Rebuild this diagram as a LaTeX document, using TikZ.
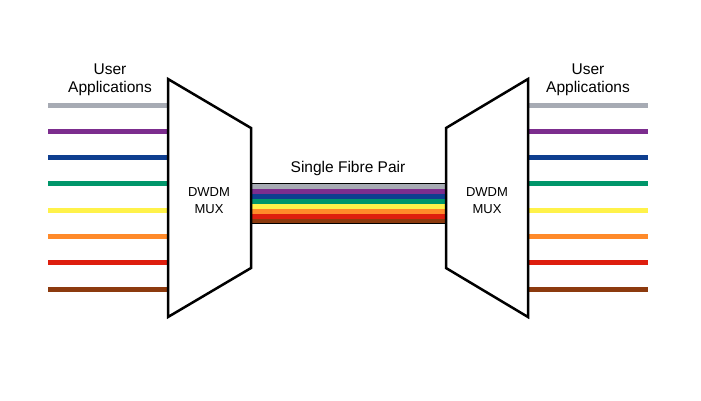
\documentclass[tikz,border=0pt]{standalone}
\usepackage{fontspec}
\setmainfont{Liberation Sans}
\definecolor{chgray}{RGB}{167,171,180}
\definecolor{chpurple}{RGB}{124,45,142}
\definecolor{chblue}{RGB}{14,62,143}
\definecolor{chgreen}{RGB}{0,150,106}
\definecolor{chyellow}{RGB}{255,242,74}
\definecolor{chorange}{RGB}{255,138,42}
\definecolor{chred}{RGB}{222,30,14}
\definecolor{chbrown}{RGB}{140,58,14}
\tikzset{
  mux/.style={draw=black, fill=white, line width=2.5pt, line join=miter},
  channel/.style={line width=5pt},
  label/.style={align=center, font=\fontsize{15.5}{18}\selectfont},
  muxlabel/.style={align=center, font=\fontsize{13}{17}\selectfont}
}
\begin{document}
\begin{tikzpicture}[x=1pt,y=-1pt]
  \useasboundingbox (0,0) rectangle (701,400);
  % channels on both sides
  \foreach \c [count=\i] in {chgray,chpurple,chblue,chgreen,chyellow,chorange,chred,chbrown} {
    \coordinate (la\i) at (48,{105+26.3*(\i-1)});
    \coordinate (lb\i) at (168,{105+26.3*(\i-1)});
    \coordinate (ra\i) at (528,{105+26.3*(\i-1)});
    \coordinate (rb\i) at (648,{105+26.3*(\i-1)});
    \draw[channel, \c] (la\i) -- (lb\i);
    \draw[channel, \c] (ra\i) -- (rb\i);
    \coordinate (fa\i) at (251,{181+5*\i});
    \coordinate (fb\i) at (446,{181+5*\i});
    \draw[channel, \c] (fa\i) -- (fb\i);
  }
  \coordinate (ftl) at (251,183.5);
  \coordinate (ftr) at (446,183.5);
  \coordinate (fbl) at (251,223.5);
  \coordinate (fbr) at (446,223.5);
  \draw[line width=1pt] (ftl) -- (ftr);
  \draw[line width=1pt] (fbl) -- (fbr);
  % multiplexers
  \draw[mux] (168,79) -- (251,128) -- (251,268) -- (168,317) -- cycle;
  \draw[mux] (528,79) -- (446,128) -- (446,268) -- (528,317) -- cycle;
  \node[muxlabel] (lmux) at (209,201) {DWDM\\MUX};
  \node[muxlabel] (rmux) at (487,201) {DWDM\\MUX};
  % labels
  \node[label] (luser) at (110,80) {User\\Applications};
  \node[label] (ruser) at (588,80) {User\\Applications};
  \node[label] (fibre) at (348,168) {Single Fibre Pair};
\end{tikzpicture}
\end{document}
